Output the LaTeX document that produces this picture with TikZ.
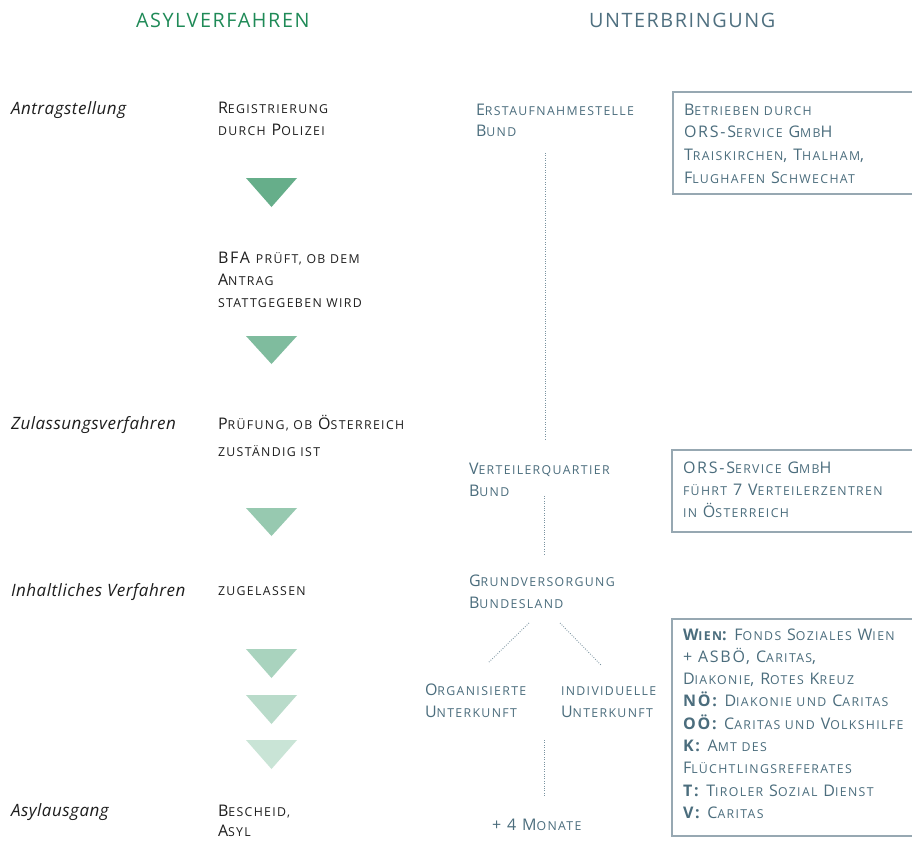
\documentclass[tikz,border=0pt]{standalone}
\usepackage{fontspec}
\setmainfont{Open Sans}
\newfontfamily\scfam[LetterSpace=11]{Open Sans}
\newfontfamily\headfam[LetterSpace=8]{Open Sans}
\newfontfamily\phasefam[LetterSpace=3]{Open Sans}

\definecolor{headgreen}{HTML}{1F8A57}
\definecolor{headteal}{HTML}{4F7080}
\definecolor{tealtext}{HTML}{4B6D7D}
\definecolor{darktext}{HTML}{1E1E1E}
\definecolor{boxline}{HTML}{97A8B2}
\definecolor{dotgray}{HTML}{7A93A0}
\definecolor{triA}{HTML}{66AE8A}
\definecolor{triB}{HTML}{7FBC9E}
\definecolor{triC}{HTML}{97C9B0}
\definecolor{triD}{HTML}{A9D3BE}
\definecolor{triE}{HTML}{B9DBCA}
\definecolor{triF}{HTML}{C9E4D6}

% lower-case letters set as smaller capitals
\newcommand\s[1]{{\fontsize{12.3}{14}\selectfont #1}}
% left-aligned stack of lines; baseline of the node = first line
\newcommand\stack[2][22.5pt]{\vtop{\baselineskip=#1\lineskiplimit=-30pt\halign{##\hfil\cr#2\crcr}}}

\tikzset{
  every node/.style={inner sep=0pt, outer sep=0pt, anchor=base west},
  heading/.style={font=\headfam\fontsize{19.8}{22}\selectfont},
  phase/.style={font=\phasefam\itshape\fontsize{17}{19}\selectfont, text=darktext},
  proc/.style={font=\scfam\fontsize{16}{18}\selectfont, text=darktext},
  lodge/.style={font=\scfam\fontsize{16}{18}\selectfont, text=tealtext},
  infobox/.style={draw=boxline, line width=1.6pt},
  dotline/.style={draw=dotgray, line width=0.9pt, dash pattern=on 0.8pt off 1.6pt},
}
\newcommand\tri[3]{\fill[#1] (246,#2) -- (297,#2) -- (271.5,#3) -- cycle;}

\begin{document}
\begin{tikzpicture}[x=1pt,y=-1pt]
\clip (0,0) rectangle (912,841);
\fill[white] (0,0) rectangle (912,841);

% column headings
\node[heading, text=headgreen] (hasyl) at (136,27) {ASYLVERFAHREN};
\node[heading, text=headteal] (hunter) at (589,27) {UNTERBRINGUNG};

% phases of the procedure
\node[phase] (ph1) at (11,114) {Antragstellung};
\node[phase] (ph2) at (11,429) {Zulassungsverfahren};
\node[phase] (ph3) at (11,596) {Inhaltliches Verfahren};
\node[phase] (ph4) at (11,816) {Asylausgang};

% steps of the procedure
\node[proc] (reg) at (218,113) {\stack{R\s{EGISTRIERUNG}\cr \s{DURCH} P\s{OLIZEI}}};
\node[proc] (bfa) at (218,263) {\stack[22pt]{BFA \s{PRÜFT, OB DEM}\cr A\s{NTRAG}\cr \s{STATTGEGEBEN WIRD}}};
\node[proc] (pruef) at (218,429) {\stack[27pt]{P\s{RÜFUNG, OB} Ö\s{STERREICH}\cr \s{ZUSTÄNDIG IST}}};
\node[proc] (zug) at (218,595) {\s{ZUGELASSEN}};
\node[proc] (besch) at (218,816) {\stack[20.5pt]{B\s{ESCHEID,}\cr A\s{SYL}}};

% flow markers
\tri{triA}{178}{207}
\tri{triB}{336}{364}
\tri{triC}{508}{536}
\tri{triD}{649}{678}
\tri{triE}{695}{724}
\tri{triF}{740}{769}

% accommodation
\node[lodge] (erst) at (476,115) {\stack[21pt]{E\s{RSTAUFNAHMESTELLE}\cr B\s{UND}}};
\node[lodge] (vert) at (469,474) {\stack[22pt]{V\s{ERTEILERQUARTIER}\cr B\s{UND}}};
\node[lodge] (grund) at (469,586) {\stack[22pt]{G\s{RUNDVERSORGUNG}\cr B\s{UNDESLAND}}};
\node[lodge] (org) at (425,695) {\stack[22pt]{O\s{RGANISIERTE}\cr U\s{NTERKUNFT}}};
\node[lodge] (indiv) at (561,695) {\stack[22pt]{\s{INDIVIDUELLE}\cr U\s{NTERKUNFT}}};
\node[lodge] (mon) at (492,830) {+ 4 M\s{ONATE}};

% dotted links
\coordinate (d1s) at (545,153); \coordinate (d1e) at (545,440);
\coordinate (d2s) at (544,496); \coordinate (d2e) at (544,554);
\coordinate (d3s) at (529,623); \coordinate (d3e) at (488,663);
\coordinate (d4s) at (560,623); \coordinate (d4e) at (601,665);
\coordinate (d5s) at (544,740); \coordinate (d5e) at (544,797);
\draw[dotline] (d1s) -- (d1e);
\draw[dotline] (d2s) -- (d2e);
\draw[dotline] (d3s) -- (d3e);
\draw[dotline] (d4s) -- (d4e);
\draw[dotline] (d5s) -- (d5e);

% operator boxes
\draw[infobox] (673,92) rectangle (930,194);
\node[lodge] (box1) at (684,115) {\stack[22.7pt]{B\s{ETRIEBEN DURCH}\cr ORS-S\s{ERVICE} G\s{MB}H\cr T\s{RAISKIRCHEN}, T\s{HALHAM},\cr F\s{LUGHAFEN} S\s{CHWECHAT}}};

\draw[infobox] (672,450) rectangle (930,532);
\node[lodge] (box2) at (683,473) {\stack[22pt]{ORS-S\s{ERVICE} G\s{MB}H\cr \s{FÜHRT} 7 V\s{ERTEILERZENTREN}\cr \s{IN} Ö\s{STERREICH}}};

\draw[infobox] (672,619) rectangle (930,836);
\node[lodge] (box3) at (683,640) {\stack[22.3pt]{\textbf{W\s{IEN}:} F\s{ONDS} S\s{OZIALES} W\s{IEN}\cr
 + ASBÖ, C\s{ARITAS},\cr
 D\s{IAKONIE}, R\s{OTES} K\s{REUZ}\cr
 \textbf{NÖ:} D\s{IAKONIE UND} C\s{ARITAS}\cr
 \textbf{OÖ:} C\s{ARITAS UND} V\s{OLKSHILFE}\cr
 \textbf{K:} A\s{MT DES}\cr
 F\s{LÜCHTLINGSREFERATES}\cr
 \textbf{T:} T\s{IROLER} S\s{OZIAL} D\s{IENST}\cr
 \textbf{V:} C\s{ARITAS}}};
\end{tikzpicture}
\end{document}
